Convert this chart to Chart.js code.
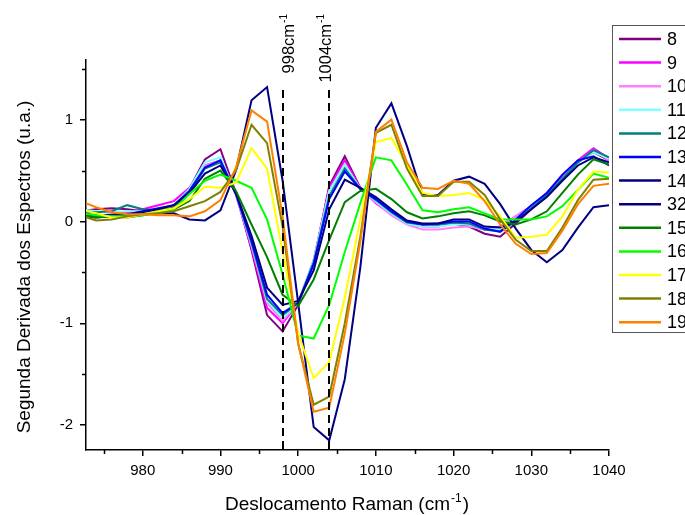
<!DOCTYPE html>
<html>
<head>
<meta charset="utf-8">
<script src="https://cdn.jsdelivr.net/npm/chart.js@4/dist/chart.umd.min.js"></script>
<style>
  body { margin: 0; background: #fff; }
  canvas { display: block; }
</style>
</head>
<body>
<canvas id="myChart" width="685" height="515"></canvas>
<script>
'use strict';
// wavenumbers (cm-1), one point every 2 cm-1
let wavenumbers = [972, 974, 976, 978, 980, 982, 984, 986, 988, 990, 992, 994, 996, 998, 1000, 1002, 1004, 1006,
    1008, 1010, 1012, 1014, 1016, 1018, 1020, 1022, 1024, 1026, 1028, 1030, 1032, 1034, 1036, 1038, 1040];

let s8 = [0.10, 0.12, 0.13, 0.12, 0.10, 0.10, 0.14, 0.32, 0.61, 0.71, 0.28, -0.28, -0.92, -1.08, -0.82, -0.40, 0.35, 0.64, 0.33, 0.20, 0.09, 0.00, -0.04, -0.04, -0.02, -0.05, -0.12, -0.15, -0.02, 0.12, 0.25, 0.42, 0.58, 0.68, 0.60];
let s9 = [0.06, 0.05, 0.07, 0.09, 0.12, 0.16, 0.20, 0.33, 0.55, 0.60, 0.26, -0.26, -0.85, -1.00, -0.80, -0.38, 0.33, 0.60, 0.33, 0.18, 0.07, -0.02, -0.05, -0.05, -0.02, -0.03, -0.08, -0.05, 0.05, 0.15, 0.28, 0.45, 0.60, 0.72, 0.62];
let s10 = [0.05, 0.05, 0.06, 0.07, 0.09, 0.12, 0.16, 0.30, 0.55, 0.60, 0.26, -0.24, -0.80, -0.98, -0.80, -0.38, 0.30, 0.55, 0.32, 0.19, 0.06, -0.03, -0.08, -0.08, -0.06, -0.05, -0.08, -0.05, 0.05, 0.14, 0.26, 0.42, 0.58, 0.70, 0.60];
let s11 = [0.12, 0.10, 0.09, 0.10, 0.10, 0.12, 0.16, 0.32, 0.58, 0.63, 0.27, -0.22, -0.78, -0.95, -0.80, -0.38, 0.30, 0.56, 0.32, 0.20, 0.08, -0.02, -0.05, -0.05, -0.03, -0.03, -0.07, -0.08, 0.02, 0.13, 0.25, 0.42, 0.58, 0.68, 0.62];
let s12 = [0.10, 0.09, 0.10, 0.16, 0.12, 0.11, 0.13, 0.28, 0.52, 0.58, 0.27, -0.21, -0.76, -0.92, -0.80, -0.40, 0.25, 0.52, 0.32, 0.21, 0.09, -0.01, -0.03, -0.03, -0.01, -0.02, -0.08, -0.10, 0.00, 0.13, 0.26, 0.42, 0.58, 0.70, 0.63];
let s13 = [0.08, 0.06, 0.06, 0.07, 0.10, 0.13, 0.16, 0.30, 0.53, 0.60, 0.27, -0.19, -0.72, -0.90, -0.80, -0.42, 0.22, 0.49, 0.32, 0.22, 0.10, 0.00, -0.03, -0.02, 0.00, 0.00, -0.07, -0.10, 0.02, 0.16, 0.28, 0.46, 0.60, 0.64, 0.55];
let s14 = [0.05, 0.04, 0.05, 0.07, 0.09, 0.12, 0.16, 0.28, 0.47, 0.55, 0.28, -0.14, -0.65, -0.82, -0.78, -0.48, 0.12, 0.41, 0.33, 0.24, 0.12, 0.01, -0.02, -0.02, 0.02, 0.02, -0.05, -0.06, 0.00, 0.12, 0.24, 0.40, 0.55, 0.63, 0.58];
let s32 = [0.07, 0.06, 0.06, 0.06, 0.07, 0.08, 0.08, 0.02, 0.01, 0.11, 0.50, 1.19, 1.32, 0.40, -0.80, -2.02, -2.15, -1.55, -0.45, 0.92, 1.16, 0.74, 0.26, 0.26, 0.40, 0.44, 0.37, 0.17, -0.07, -0.28, -0.40, -0.28, -0.06, 0.14, 0.16];
let s15 = [0.06, 0.04, 0.05, 0.04, 0.06, 0.09, 0.12, 0.20, 0.42, 0.50, 0.30, -0.03, -0.35, -0.72, -0.83, -0.57, -0.18, 0.19, 0.30, 0.32, 0.22, 0.09, 0.03, 0.05, 0.08, 0.10, 0.06, 0.00, -0.03, 0.02, 0.10, 0.28, 0.46, 0.61, 0.56];
let s16 = [0.08, 0.06, 0.05, 0.05, 0.06, 0.08, 0.12, 0.27, 0.40, 0.46, 0.40, 0.33, 0.02, -0.52, -1.12, -1.15, -0.82, -0.30, 0.18, 0.63, 0.60, 0.36, 0.11, 0.09, 0.12, 0.14, 0.08, 0.02, 0.02, 0.02, 0.05, 0.15, 0.31, 0.47, 0.43];
let s17 = [0.12, 0.08, 0.04, 0.04, 0.07, 0.10, 0.13, 0.22, 0.34, 0.33, 0.38, 0.72, 0.52, -0.30, -1.10, -1.54, -1.38, -0.75, 0.02, 0.78, 0.82, 0.55, 0.28, 0.25, 0.26, 0.28, 0.21, 0.05, -0.16, -0.15, -0.13, 0.05, 0.31, 0.49, 0.48];
let s18 = [0.06, 0.01, 0.02, 0.05, 0.07, 0.08, 0.10, 0.15, 0.20, 0.29, 0.50, 0.95, 0.77, -0.05, -1.20, -1.80, -1.72, -1.00, -0.15, 0.87, 0.95, 0.52, 0.25, 0.25, 0.39, 0.39, 0.26, 0.02, -0.18, -0.29, -0.29, -0.06, 0.21, 0.41, 0.42];
let s19 = [0.20, 0.14, 0.09, 0.07, 0.07, 0.06, 0.06, 0.05, 0.10, 0.21, 0.53, 1.09, 0.98, 0.05, -1.20, -1.87, -1.83, -1.10, -0.20, 0.88, 1.00, 0.58, 0.33, 0.32, 0.40, 0.37, 0.20, -0.03, -0.22, -0.32, -0.31, -0.09, 0.17, 0.35, 0.37];

let seriesNames = ['8', '9', '10', '11', '12', '13', '14', '32', '15', '16', '17', '18', '19'];
let seriesValues = [s8, s9, s10, s11, s12, s13, s14, s32, s15, s16, s17, s18, s19];
let seriesColors = ['#800080', '#ff00ff', '#ff80ff', '#80ffff', '#008080', '#0000ff', '#000080',
    '#000080', '#008000', '#00ff00', '#ffff00', '#808000', '#ff8000'];

let xTicks = [975, 980, 985, 990, 995, 1000, 1005, 1010, 1015, 1020, 1025, 1030, 1035, 1040];
let yTicks = [-2, -1.5, -1, -0.5, 0, 0.5, 1, 1.5];
let markedPeaks = [998, 1004];

let fontFamily = '"Liberation Sans", Arial, sans-serif';
Chart.defaults.font.family = fontFamily;
Chart.defaults.color = '#000';

let datasets = [];
for (let i = 0; i < seriesNames.length; i++) {
    datasets.push({
        label: seriesNames[i],
        data: wavenumbers.map((w, j) => ({ x: w, y: seriesValues[i][j] })),
        borderColor: seriesColors[i],
        backgroundColor: seriesColors[i],
        borderWidth: 2,
        pointRadius: 0,
        tension: 0,
        order: seriesNames.length - i
    });
}

// text with a "-1" superscript, drawn left to right from x
function drawSup(ctx, x, y, base, sup, tail, size) {
    ctx.font = size + 'px ' + fontFamily;
    ctx.fillText(base, x, y);
    x += ctx.measureText(base).width;
    ctx.font = Math.round(size * 0.62) + 'px ' + fontFamily;
    ctx.fillText(sup, x + 1, y - size * 0.42);
    x += ctx.measureText(sup).width + 2;
    ctx.font = size + 'px ' + fontFamily;
    if (tail) ctx.fillText(tail, x, y);
}
function supWidth(ctx, base, sup, tail, size) {
    ctx.font = size + 'px ' + fontFamily;
    let w = ctx.measureText(base + tail).width;
    ctx.font = Math.round(size * 0.62) + 'px ' + fontFamily;
    return w + ctx.measureText(sup).width + 3;
}

let extras = {
    id: 'extras',
    afterDatasetsDraw(chart) {
        let ctx = chart.ctx;
        let xs = chart.scales.x;
        let area = chart.chartArea;
        ctx.save();
        // dashed marker lines
        ctx.strokeStyle = '#000';
        ctx.lineWidth = 2;
        ctx.setLineDash([8, 5]);
        markedPeaks.forEach(p => {
            let px = Math.round(xs.getPixelForValue(p));
            ctx.beginPath();
            ctx.moveTo(px, 90);
            ctx.lineTo(px, area.bottom);
            ctx.stroke();
        });
        ctx.setLineDash([]);
        // rotated peak labels
        ctx.fillStyle = '#000';
        ctx.textBaseline = 'alphabetic';
        ctx.textAlign = 'left';
        let offs = [11, 2];
        markedPeaks.forEach((p, k) => {
            let px = xs.getPixelForValue(p) + offs[k];
            let w = supWidth(ctx, String(p) + 'cm', '-1', '', 16.5);
            ctx.save();
            ctx.translate(px, 12 + w);
            ctx.rotate(-Math.PI / 2);
            drawSup(ctx, 0, 0, String(p) + 'cm', '-1', '', 16.5);
            ctx.restore();
        });
        ctx.restore();
    },
    afterDraw(chart) {
        let ctx = chart.ctx;
        let xs = chart.scales.x;
        let ys = chart.scales.y;
        let area = chart.chartArea;
        ctx.save();
        // minor ticks
        ctx.strokeStyle = '#000';
        ctx.lineWidth = 1.5;
        xTicks.filter(v => v % 10 !== 0).forEach(v => {
            let px = Math.round(xs.getPixelForValue(v)) + 0.5;
            ctx.beginPath();
            ctx.moveTo(px, area.bottom);
            ctx.lineTo(px, area.bottom + 4);
            ctx.stroke();
        });
        yTicks.filter(v => v % 1 !== 0).forEach(v => {
            let py = Math.round(ys.getPixelForValue(v)) + 0.5;
            ctx.beginPath();
            ctx.moveTo(area.left, py);
            ctx.lineTo(area.left - 4, py);
            ctx.stroke();
        });
        // axis titles
        ctx.fillStyle = '#000';
        ctx.textAlign = 'left';
        ctx.textBaseline = 'alphabetic';
        let xt = ['Deslocamento Raman (cm', '-1', ')'];
        let w = supWidth(ctx, xt[0], xt[1], xt[2], 19);
        drawSup(ctx, (area.left + area.right) / 2 - w / 2, 510, xt[0], xt[1], xt[2], 19);
        ctx.save();
        ctx.translate(30, 267);
        ctx.rotate(-Math.PI / 2);
        ctx.textAlign = 'center';
        ctx.font = '19px ' + fontFamily;
        ctx.fillText('Segunda Derivada dos Espectros (u.a.)', 0, 0);
        ctx.restore();
        // legend
        ctx.strokeStyle = '#555';
        ctx.lineWidth = 1;
        ctx.strokeRect(612.5, 25.5, 140, 307);
        ctx.font = '18px ' + fontFamily;
        ctx.textBaseline = 'middle';
        ctx.textAlign = 'left';
        seriesNames.forEach((n, i) => {
            let y = 39 + i * 23.6;
            ctx.strokeStyle = seriesColors[i];
            ctx.lineWidth = 2.5;
            ctx.beginPath();
            ctx.moveTo(619, y);
            ctx.lineTo(661, y);
            ctx.stroke();
            ctx.fillStyle = '#000';
            ctx.fillText(n, 667, y + 1);
        });
        ctx.restore();
    }
};

let ctx = document.getElementById('myChart').getContext('2d');
let myChart = new Chart(ctx, {
    type: 'line',
    data: { datasets: datasets },
    options: {
        responsive: false,
        animation: false,
        devicePixelRatio: 1,
        layout: { padding: { left: 0, top: 60, right: 76, bottom: 0 } },
        plugins: { legend: { display: false }, tooltip: { enabled: false } },
        scales: {
            x: {
                type: 'linear',
                min: 972.7,
                max: 1040,
                afterBuildTicks: s => { s.ticks = xTicks.map(v => ({ value: v })); },
                afterFit: s => { s.height = 65; },
                grid: {
                    drawOnChartArea: false,
                    drawTicks: true,
                    tickLength: 6,
                    lineWidth: 1.5,
                    color: c => (c.tick && c.tick.value % 10 === 0) ? '#000' : 'rgba(0,0,0,0)'
                },
                border: { display: true, color: '#000', width: 1.5 },
                ticks: {
                    autoSkip: false,
                    maxRotation: 0,
                    padding: 6,
                    font: { size: 15 },
                    color: '#000',
                    callback: v => (v % 10 === 0 ? String(v) : '')
                }
            },
            y: {
                type: 'linear',
                min: -2.245,
                max: 1.586,
                afterBuildTicks: s => { s.ticks = yTicks.map(v => ({ value: v })); },
                afterFit: s => { s.width = 86; },
                grid: {
                    drawOnChartArea: false,
                    drawTicks: true,
                    tickLength: 6,
                    lineWidth: 1.5,
                    color: c => (c.tick && c.tick.value % 1 === 0) ? '#000' : 'rgba(0,0,0,0)'
                },
                border: { display: true, color: '#000', width: 1.5 },
                ticks: {
                    autoSkip: false,
                    padding: 7,
                    font: { size: 15 },
                    color: '#000',
                    callback: v => (v % 1 === 0 ? String(v) : '')
                }
            }
        }
    },
    plugins: [extras]
});
</script>
</body>
</html>
